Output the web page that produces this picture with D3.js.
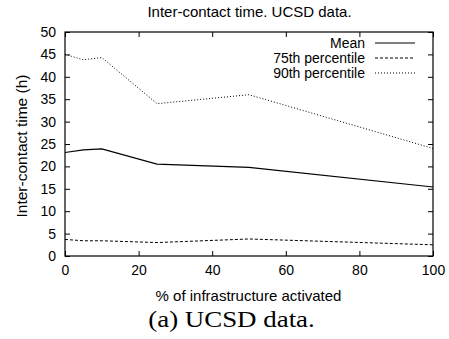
<!DOCTYPE html>
<html>
<head>
<meta charset="utf-8">
<script src="https://cdn.jsdelivr.net/npm/d3@7"></script>
<style>
  body { margin: 0; background: #fff; }
  svg text { font-family: "Liberation Sans", Arial, sans-serif; fill: #000; }
</style>
</head>
<body>
<svg id="chart" width="449" height="339"></svg>
<script>
// data
const activated = [0, 5, 10, 25, 50, 100];
const meanVals = [23.1, 23.7, 23.9, 20.5, 19.8, 15.4];
const p75Vals = [3.7, 3.4, 3.4, 3.0, 3.8, 2.5];
const p90Vals = [45.0, 43.8, 44.3, 34.0, 36.0, 24.0];
const xTicks = [0, 20, 40, 60, 80, 100];
const yTicks = [0, 5, 10, 15, 20, 25, 30, 35, 40, 45, 50];
const seriesNames = ["Mean", "75th percentile", "90th percentile"];
const seriesDash = [null, "3,2", "1,2"];

const svg = d3.select("#chart");
const plotL = 65, plotR = 433, plotT = 32, plotB = 256;

const x = d3.scaleLinear().domain([0, 100]).range([plotL, plotR]);
const y = d3.scaleLinear().domain([0, 50]).range([plotB, plotT]);

// title
svg.append("text").attr("x", 249.5).attr("y", 17)
  .attr("text-anchor", "middle").style("font-size", "15px")
  .text("Inter-contact time. UCSD data.");

// axes, gnuplot style (ticks inward, mirrored)
const tickLen = 5;
svg.append("g").attr("transform", `translate(0,${plotB})`)
  .call(d3.axisBottom(x).tickValues(xTicks).tickSizeInner(-tickLen).tickSizeOuter(0).tickPadding(9))
  .call(g => g.select(".domain").remove())
  .call(g => g.selectAll("text").style("font-size", "14px"));
svg.append("g").attr("transform", `translate(0,${plotT})`)
  .call(d3.axisTop(x).tickValues(xTicks).tickSizeInner(-tickLen).tickSizeOuter(0).tickFormat(""))
  .call(g => g.select(".domain").remove());
svg.append("g").attr("transform", `translate(${plotL},0)`)
  .call(d3.axisLeft(y).tickValues(yTicks).tickSizeInner(-tickLen).tickSizeOuter(0).tickPadding(9))
  .call(g => g.select(".domain").remove())
  .call(g => g.selectAll("text").style("font-size", "14px"));
svg.append("g").attr("transform", `translate(${plotR},0)`)
  .call(d3.axisRight(y).tickValues(yTicks).tickSizeInner(-tickLen).tickSizeOuter(0).tickFormat(""))
  .call(g => g.select(".domain").remove());

svg.append("rect").attr("x", plotL).attr("y", plotT)
  .attr("width", plotR - plotL).attr("height", plotB - plotT)
  .attr("fill", "none").attr("stroke", "#000").attr("stroke-width", 1.2);

// axis labels
svg.append("text").attr("x", 248.5).attr("y", 301)
  .attr("text-anchor", "middle").style("font-size", "15px")
  .text("% of infrastructure activated");
svg.append("text")
  .attr("transform", `translate(27,146) rotate(-90)`)
  .attr("text-anchor", "middle").style("font-size", "15.5px")
  .text("Inter-contact time (h)");

// lines
const allSeries = [meanVals, p75Vals, p90Vals];
const line = d3.line().x((d, i) => x(activated[i])).y(d => y(d));
allSeries.forEach((vals, k) => {
  svg.append("path").datum(vals)
    .attr("d", line)
    .attr("fill", "none").attr("stroke", "#000")
    .attr("stroke-width", k === 0 ? 1.2 : 1)
    .attr("stroke-dasharray", seriesDash[k]);
});

// legend
seriesNames.forEach((name, k) => {
  const ly = 43 + k * 15;
  svg.append("text").attr("x", 365).attr("y", ly + 5)
    .attr("text-anchor", "end").style("font-size", "14px").text(name);
  svg.append("line").attr("x1", 375).attr("x2", 415).attr("y1", ly).attr("y2", ly)
    .attr("stroke", "#000").attr("stroke-width", k === 0 ? 1.2 : 1)
    .attr("stroke-dasharray", seriesDash[k]);
});

// caption (latex-ish, wide serif)
svg.append("text")
  .attr("transform", "translate(231.5,327) scale(1.17,1)")
  .attr("text-anchor", "middle")
  .style("font-family", "'Liberation Serif', 'DejaVu Serif', serif")
  .style("font-size", "23px")
  .text("(a) UCSD data.");
</script>
</body>
</html>
